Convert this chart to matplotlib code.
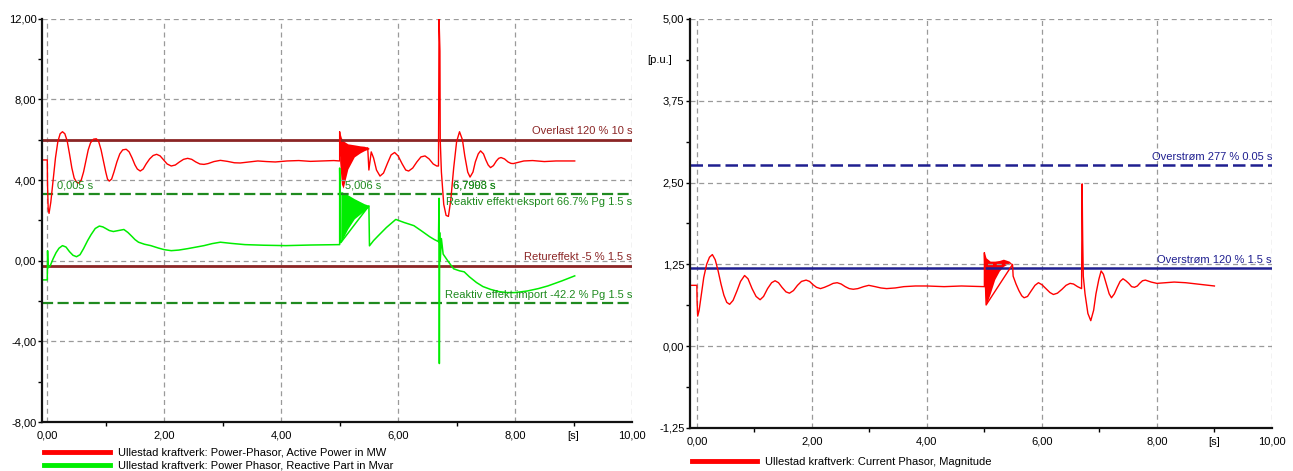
import numpy as np
import matplotlib
matplotlib.use("Agg")
import matplotlib.pyplot as plt
from matplotlib.lines import Line2D
from matplotlib.ticker import FuncFormatter, MultipleLocator

plt.rcParams['font.family'] = ['Liberation Sans Narrow', 'Liberation Sans', 'DejaVu Sans']

# ---- data: venstre figur (effekt) ----
p_t = [-0.09, 0.0, 0.004, 0.015, 0.03, 0.06, 0.10, 0.14, 0.18, 0.22, 0.26, 0.30, 0.34,
       0.38, 0.42, 0.46, 0.50, 0.54, 0.58, 0.62, 0.66, 0.70, 0.74, 0.79, 0.84, 0.88,
       0.92, 0.96, 1.00, 1.03, 1.06, 1.10, 1.14, 1.19, 1.24, 1.29, 1.35, 1.40, 1.45,
       1.50, 1.54, 1.59, 1.64, 1.69, 1.75, 1.81, 1.87, 1.93, 1.99, 2.05, 2.12, 2.19,
       2.26, 2.33, 2.40, 2.47, 2.54, 2.61, 2.68, 2.75, 2.85, 2.96, 3.08, 3.20, 3.30,
       3.45, 3.60, 3.75, 3.90, 4.10, 4.30, 4.50, 4.70, 4.90, 5.00, 5.00, 5.02,
       5.48, 5.50, 5.54, 5.58, 5.63, 5.69, 5.75, 5.82, 5.88, 5.94, 6.00, 6.07, 6.13,
       6.18, 6.25, 6.32, 6.39, 6.46, 6.53, 6.60, 6.66, 6.69,
       6.70, 6.71, 6.715, 6.72, 6.74, 6.78, 6.82, 6.86, 6.90, 6.95, 7.00, 7.05, 7.10,
       7.14, 7.19, 7.23, 7.28, 7.32, 7.37, 7.41, 7.46, 7.50, 7.54, 7.58, 7.63, 7.68,
       7.72, 7.76, 7.82, 7.88, 7.93, 7.97, 8.05, 8.15, 8.30, 8.50, 8.70, 9.02]
p_mw = [5.0, 5.0, 3.8, 2.6, 2.35, 2.9, 4.0, 5.1, 5.9, 6.3, 6.4, 6.3, 5.95,
        5.3, 4.6, 4.1, 3.9, 3.85, 4.0, 4.4, 4.95, 5.5, 5.85, 6.03, 6.05, 5.9,
        5.5, 4.95, 4.4, 4.05, 3.95, 4.05, 4.4, 4.9, 5.3, 5.5, 5.53, 5.4, 5.1,
        4.75, 4.55, 4.45, 4.55, 4.8, 5.05, 5.22, 5.28, 5.2, 5.0, 4.8, 4.7, 4.75,
        4.9, 5.03, 5.08, 5.03, 4.9, 4.8, 4.78, 4.82, 4.92, 4.98, 4.93, 4.86, 4.85,
        4.9, 4.95, 4.92, 4.9, 4.95, 4.97, 4.93, 4.95, 4.97, 4.95, 6.4, 5.2,
        5.6, 4.5, 5.4, 5.1, 4.5, 4.2, 4.35, 4.85, 5.25, 5.37, 5.2, 4.8, 4.5,
        4.45, 4.6, 4.9, 5.15, 5.2, 5.05, 4.8, 4.7, 4.7,
        12.0, 11.0, 10.4, 6.0, 4.4, 2.8, 2.25, 2.2, 3.0, 4.6, 5.9, 6.4, 6.0,
        5.2, 4.4, 4.15, 4.4, 4.9, 5.3, 5.45, 5.3, 5.0, 4.75, 4.62, 4.72, 4.95,
        5.08, 5.12, 5.05, 4.9, 4.83, 4.82, 4.88, 4.95, 4.97, 4.92, 4.95, 4.95]

# svingning ved 5 s (omhylling)
p_burst_t = [5.0, 5.03, 5.06, 5.14, 5.25, 5.35, 5.42, 5.5]
p_burst_hi = [6.4, 6.1, 5.95, 5.8, 5.75, 5.7, 5.68, 5.6]
p_burst_lo = [4.9, 3.8, 3.6, 4.55, 5.15, 5.35, 5.46, 5.55]

q_t = [-0.07, 0.0, 0.005, 0.015, 0.05, 0.10, 0.15, 0.20, 0.26, 0.32, 0.38, 0.44, 0.50,
       0.56, 0.62, 0.69, 0.75, 0.82, 0.89, 0.95, 1.00, 1.06, 1.13, 1.22, 1.31, 1.38,
       1.45, 1.50, 1.56, 1.66, 1.77, 1.90, 2.00, 2.12, 2.25, 2.40, 2.55, 2.68, 2.82,
       2.96, 3.15, 3.38, 3.70, 4.08, 4.50, 5.00, 5.00, 5.02,
       5.50, 5.51, 5.58, 5.66, 5.80, 5.96, 6.10, 6.27, 6.40, 6.54, 6.62, 6.69,
       6.70, 6.705, 6.71, 6.72, 6.74, 6.77, 6.86, 6.95, 7.05, 7.13, 7.22, 7.34,
       7.45, 7.58, 7.72, 7.86, 8.00, 8.21, 8.40, 8.56, 8.80, 9.02]
q_mvar = [-0.95, -0.95, 0.5, -0.35, -0.25, 0.1, 0.4, 0.62, 0.75, 0.68, 0.45, 0.27, 0.2,
          0.3, 0.6, 1.0, 1.3, 1.6, 1.72, 1.68, 1.6, 1.5, 1.45, 1.5, 1.55, 1.4,
          1.2, 1.05, 0.92, 0.82, 0.75, 0.63, 0.55, 0.5, 0.53, 0.6, 0.68, 0.75, 0.85,
          0.92, 0.86, 0.8, 0.77, 0.75, 0.78, 0.8, 4.6, 0.9,
          2.72, 0.74, 1.0, 1.24, 1.65, 2.05, 1.9, 1.74, 1.48, 1.19, 1.05, 0.95,
          3.1, -5.1, 1.4, 0.0, 1.1, 0.33, -0.05, -0.4, -0.5, -0.55, -0.8, -1.08,
          -1.28, -1.42, -1.53, -1.58, -1.58, -1.5, -1.38, -1.25, -1.0, -0.75]

q_burst_t = [5.02, 5.14, 5.25, 5.42, 5.5]
q_burst_hi = [3.45, 3.27, 3.08, 2.83, 2.75]
q_burst_lo = [0.9, 1.59, 2.08, 2.48, 2.7]

# ---- data: høyre figur (strøm) ----
i_t = [-0.09, 0.0, 0.004, 0.015, 0.04, 0.08, 0.12, 0.17, 0.22, 0.27, 0.32, 0.37, 0.42,
       0.47, 0.52, 0.57, 0.63, 0.70, 0.76, 0.83, 0.89, 0.96, 1.03, 1.10, 1.16, 1.23,
       1.30, 1.36, 1.42, 1.48, 1.55, 1.61, 1.68, 1.75, 1.82, 1.90, 1.96, 2.02, 2.08,
       2.15, 2.22, 2.30, 2.37, 2.44, 2.51, 2.58, 2.65, 2.72, 2.80, 2.90, 2.99, 3.10,
       3.20, 3.30, 3.45, 3.60, 3.80, 4.00, 4.30, 4.60, 5.00, 5.00, 5.03,
       5.49, 5.50, 5.55, 5.60, 5.65, 5.69, 5.75, 5.81, 5.88, 5.94, 6.00, 6.07, 6.14,
       6.20, 6.27, 6.35, 6.42, 6.49, 6.55, 6.62, 6.69,
       6.70, 6.705, 6.71, 6.72, 6.75, 6.80, 6.85, 6.90, 6.94, 6.99, 7.03, 7.07, 7.12,
       7.17, 7.21, 7.26, 7.31, 7.36, 7.41, 7.46, 7.51, 7.56, 7.61, 7.66, 7.70, 7.75,
       7.80, 7.90, 8.00, 8.15, 8.30, 8.50, 8.70, 9.00]
i_pu = [0.93, 0.93, 0.7, 0.46, 0.55, 0.8, 1.05, 1.25, 1.36, 1.40, 1.32, 1.15, 0.95,
        0.78, 0.67, 0.64, 0.7, 0.85, 0.99, 1.08, 1.03, 0.88, 0.76, 0.71, 0.76, 0.88,
        0.97, 1.0, 0.97, 0.9, 0.83, 0.81, 0.85, 0.93, 0.99, 1.01, 0.99, 0.94, 0.9,
        0.88, 0.9, 0.93, 0.96, 0.97, 0.95, 0.91, 0.88, 0.87, 0.88, 0.91, 0.93, 0.91,
        0.89, 0.88, 0.89, 0.91, 0.92, 0.92, 0.91, 0.92, 0.91, 1.43, 0.63,
        1.25, 1.07, 0.95, 0.85, 0.77, 0.74, 0.76, 0.84, 0.93, 0.97, 0.94, 0.88, 0.82,
        0.79, 0.81, 0.87, 0.93, 0.96, 0.95, 0.91, 0.88,
        2.48, 1.98, 1.6, 1.07, 0.8, 0.5, 0.39, 0.55, 0.8, 1.02, 1.15, 1.1, 0.95,
        0.8, 0.74, 0.8, 0.9, 0.99, 1.03, 1.0, 0.96, 0.91, 0.9, 0.92, 0.96, 1.0,
        1.01, 0.98, 0.96, 0.97, 0.98, 0.97, 0.95, 0.92]

i_burst_t = [5.0, 5.03, 5.1, 5.18, 5.26, 5.33, 5.43, 5.49]
i_burst_hi = [1.43, 1.35, 1.3, 1.3, 1.31, 1.33, 1.3, 1.25]
i_burst_lo = [0.9, 0.63, 0.8, 1.02, 1.15, 1.22, 1.27, 1.24]

# grenseverdier
p_grenser = [6.0, -0.25]
p_grense_tekst = ["Overlast 120 % 10 s", "Retureffekt -5 % 1.5 s"]
q_grenser = [3.335, -2.11]
q_grense_tekst = ["Reaktiv effekt eksport 66.7% Pg 1.5 s", "Reaktiv effekt import -42.2 % Pg 1.5 s"]
i_grenser = [2.77, 1.2]
i_grense_tekst = ["Overstrøm 277 % 0.05 s", "Overstrøm 120 % 1.5 s"]
markor_t = [0.16, 5.1, 6.93]
markor_tekst = ["0,005 s", "5,006 s", "6,7908 s"]

RED = "#ff0000"
GREEN = "#00ee00"
DARKRED = "#8b2525"
DARKGREEN = "#1f8a1f"
NAVY = "#1f1f90"
FS = 8

komma = FuncFormatter(lambda v, pos: ("%.2f" % v).replace(".", ","))


def oppsett(ax, xmin, ymin, ymax, ymaj, ymin_step):
    ax.set_xlim(xmin, 10)
    ax.set_ylim(ymin, ymax)
    ax.xaxis.set_major_locator(MultipleLocator(2))
    ax.xaxis.set_minor_locator(MultipleLocator(1))
    ax.yaxis.set_major_locator(MultipleLocator(ymaj))
    ax.yaxis.set_minor_locator(MultipleLocator(ymin_step))
    ax.xaxis.set_major_formatter(komma)
    ax.yaxis.set_major_formatter(komma)
    ax.grid(True, which="major", color="#9a9a9a", linestyle=(0, (4, 3)), linewidth=0.9)
    for s in ["top", "right"]:
        ax.spines[s].set_visible(False)
    for s in ["left", "bottom"]:
        ax.spines[s].set_linewidth(1.6)
        ax.spines[s].set_color("#111111")
    ax.tick_params(which="both", direction="out", length=3, width=1, labelsize=FS, pad=1)
    ax.tick_params(axis="x", which="major", length=0, pad=6)
    ax.text(9, -0.022, "[s]", transform=ax.get_xaxis_transform(), ha="center", va="top",
            fontsize=FS)


fig = plt.figure(figsize=(12.93, 4.71), dpi=100)

# ---- venstre ----
ax1 = fig.add_axes([0.0325, 0.104, 0.4563, 0.856])
oppsett(ax1, -0.09, -8, 12, 4, 2)
for y, txt in zip(p_grenser, p_grense_tekst):
    ax1.axhline(y, color=DARKRED, lw=2)
    ax1.text(10, y + 0.2, txt, color=DARKRED, ha="right", va="bottom", fontsize=FS)
for y, txt, va, dy in zip(q_grenser, q_grense_tekst, ["top", "bottom"], [-0.15, 0.15]):
    ax1.axhline(y, color=DARKGREEN, lw=1.6, linestyle=(0, (5, 2)))
    ax1.text(10, y + dy, txt, color=DARKGREEN, ha="right", va=va, fontsize=FS)
for t, txt in zip(markor_t, markor_tekst):
    ax1.text(t, 3.5, txt, color=DARKGREEN, ha="left", va="bottom", fontsize=FS)
ax1.text(markor_t[2], 3.5, "6,7993 s", color=DARKGREEN, ha="left", va="bottom", fontsize=FS)

ax1.fill_between(q_burst_t, q_burst_lo, q_burst_hi, color=GREEN, lw=0)
ax1.plot(q_t, q_mvar, color=GREEN, lw=1.1)
ax1.fill_between(p_burst_t, p_burst_lo, p_burst_hi, color=RED, lw=0)
ax1.plot(p_t, p_mw, color=RED, lw=1.0)

ax1.legend(handles=[Line2D([], [], color=RED, lw=3.5), Line2D([], [], color=GREEN, lw=3.5)],
           labels=["Ullestad kraftverk: Power-Phasor, Active Power in MW",
                   "Ullestad kraftverk: Power Phasor, Reactive Part in Mvar"],
           loc="upper left", bbox_to_anchor=(0.004, -0.063), frameon=False, fontsize=FS,
           handlelength=5.9, handletextpad=0.7, labelspacing=0.3, borderpad=0, borderaxespad=0)

# ---- høyre ----
ax2 = fig.add_axes([0.5336, 0.0913, 0.4501, 0.8684])
oppsett(ax2, -0.12, -1.25, 5, 1.25, 0.625)
ax2.text(-0.03, 4.375, "[p.u.]", transform=ax2.get_yaxis_transform(), ha="right",
         va="center", fontsize=FS)
ax2.axhline(i_grenser[0], color=NAVY, lw=1.8, linestyle=(0, (5, 2)))
ax2.axhline(i_grenser[1], color=NAVY, lw=1.8)
for y, txt in zip(i_grenser, i_grense_tekst):
    ax2.text(10, y + 0.04, txt, color=NAVY, ha="right", va="bottom", fontsize=FS)

ax2.fill_between(i_burst_t, i_burst_lo, i_burst_hi, color=RED, lw=0)
ax2.plot(i_t, i_pu, color=RED, lw=1.0)

ax2.legend(handles=[Line2D([], [], color=RED, lw=3.5)],
           labels=["Ullestad kraftverk: Current Phasor, Magnitude"],
           loc="upper left", bbox_to_anchor=(0.003, -0.07), frameon=False, fontsize=FS,
           handlelength=5.9, handletextpad=0.7, borderpad=0, borderaxespad=0)

fig.savefig("out.png", dpi=100)
